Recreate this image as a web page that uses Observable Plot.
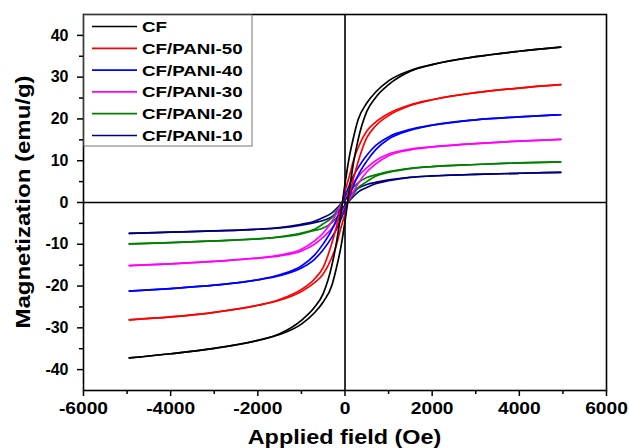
<!DOCTYPE html>
<html><head><meta charset="utf-8">
<script src="https://cdn.jsdelivr.net/npm/d3@7"></script>
<script src="https://cdn.jsdelivr.net/npm/@observablehq/plot@0.6"></script>
<style>
body{margin:0;background:#fff}
#chart{position:relative;width:629px;height:448px}
svg text{font-family:"Liberation Sans",Arial,sans-serif;font-weight:bold}
</style>
</head><body><div id="chart"></div>
<script>
// Applied field grid (Oe)
const fieldH = [-4950,-4000,-3000,-2000,-1500,-1000,-700,-500,-300,-200,-100,0,100,200,300,500,700,1000,1500,2000,3000,4000,4950];

// Magnetization (emu/g): upper branch (descending field) and lower branch (ascending field)
const cfUpper   = [-37.2,-36.2,-34.9,-33.0,-31.4,-28.2,-25.1,-21.8,-15.0,-9.8,-3.0,4.5,11.0,15.8,19.8,23.8,26.4,29.1,31.6,33.0,34.9,36.2,37.2];
const cfLower   = [-37.2,-36.2,-34.9,-33.0,-31.6,-29.1,-26.4,-23.8,-19.8,-15.8,-11.0,-4.5,3.0,9.8,15.0,21.8,25.1,28.2,31.4,33.0,34.9,36.2,37.2];
const p50Upper  = [-28.1,-27.4,-26.3,-24.6,-23.2,-20.8,-18.3,-15.5,-9.7,-6.0,-1.8,2.7,6.3,10.3,13.1,17.1,19.2,21.3,23.4,24.6,26.3,27.4,28.2];
const p50Lower  = [-28.1,-27.4,-26.3,-24.6,-23.4,-21.3,-19.2,-17.1,-13.1,-10.3,-6.3,-2.7,1.8,6.0,9.7,15.5,18.3,20.8,23.2,24.6,26.3,27.4,28.2];
const p40Upper  = [-21.2,-20.6,-19.8,-18.5,-17.3,-15.2,-12.6,-9.9,-6.5,-4.2,-1.5,1.5,4.2,6.5,8.3,11.3,13.6,15.7,17.5,18.5,19.8,20.5,21.0];
const p40Lower  = [-21.2,-20.6,-19.8,-18.5,-17.5,-15.7,-13.6,-11.3,-8.3,-6.5,-4.2,-1.5,1.5,4.2,6.5,9.9,12.6,15.2,17.3,18.5,19.8,20.5,21.0];
const p30Upper  = [-15.1,-14.7,-14.1,-13.3,-12.6,-11.2,-9.2,-7.3,-4.5,-2.7,-0.8,1.2,3.1,4.8,6.2,8.3,10.0,11.6,12.8,13.3,14.1,14.7,15.1];
const p30Lower  = [-15.1,-14.7,-14.1,-13.3,-12.8,-11.6,-10.0,-8.3,-6.2,-4.8,-3.1,-1.2,0.8,2.7,4.5,7.3,9.2,11.2,12.6,13.3,14.1,14.7,15.1];
const p20Upper  = [-9.9,-9.6,-9.2,-8.7,-8.2,-7.3,-6.4,-5.1,-3.6,-2.1,-0.6,1.0,2.4,3.7,4.7,6.0,6.6,7.4,8.2,8.6,9.1,9.5,9.7];
const p20Lower  = [-9.9,-9.6,-9.2,-8.7,-8.3,-7.5,-6.7,-6.1,-4.8,-3.7,-2.4,-1.0,0.6,2.1,3.5,5.0,6.3,7.2,8.1,8.6,9.1,9.5,9.7];
const p10Upper  = [-7.4,-7.1,-6.8,-6.4,-6.0,-5.2,-4.5,-3.6,-2.5,-1.5,-0.4,0.7,1.6,2.6,3.4,4.3,4.8,5.4,6.05,6.35,6.75,7.0,7.2];
const p10Lower  = [-7.4,-7.1,-6.8,-6.4,-6.1,-5.4,-4.8,-4.3,-3.4,-2.6,-1.6,-0.7,0.4,1.5,2.5,3.6,4.5,5.2,6.0,6.35,6.75,7.0,7.2];

const seriesNames  = ["CF","CF/PANI-50","CF/PANI-40","CF/PANI-30","CF/PANI-20","CF/PANI-10"];
const seriesColors = ["#000000","#ff0000","#0000ff","#ff00ff","#008000","#000080"];
const upperBranches = [cfUpper,p50Upper,p40Upper,p30Upper,p20Upper,p10Upper];
const lowerBranches = [cfLower,p50Lower,p40Lower,p30Lower,p20Lower,p10Lower];

const xTicks = [-6000,-4000,-2000,0,2000,4000,6000];
const xMinor = [-5000,-3000,-1000,1000,3000,5000];
const yTicks = [-40,-30,-20,-10,0,10,20,30,40];
const yMinor = [-35,-25,-15,-5,5,15,25,35];
const xLabel = "Applied field (Oe)";
const yLabel = "Magnetization (emu/g)";

const rows = [];
seriesNames.forEach((name, i) => {
  fieldH.forEach((h, j) => rows.push({H: h, M: upperBranches[i][j], key: name + "-up", name}));
  fieldH.forEach((h, j) => rows.push({H: h, M: lowerBranches[i][j], key: name + "-lo", name}));
});
const drawOrder = rows.slice().reverse();

const chart = Plot.plot({
  width: 629, height: 448,
  marginLeft: 83, marginRight: 23, marginTop: 14, marginBottom: 58,
  x: {domain: [-6000, 6000]},
  y: {domain: [-45, 45]},
  color: {domain: seriesNames, range: seriesColors},
  marks: [
    Plot.ruleX([0], {stroke: "#000", strokeWidth: 1.6}),
    Plot.ruleY([0], {stroke: "#000", strokeWidth: 1.6}),
    Plot.line(drawOrder, {x: "H", y: "M", z: "key", stroke: "name", strokeWidth: 1.7, curve: "monotone-x"}),
    Plot.frame({stroke: "#000", strokeWidth: 1.6}),
    Plot.axisX({ticks: xTicks, tickSize: 6, tickPadding: 6, strokeWidth: 1.5, tickFormat: d => String(d), fontSize: 16, fontWeight: "bold", label: null}),
    Plot.axisX({ticks: xMinor, tickSize: 4, strokeWidth: 1.5, text: null, label: null}),
    Plot.axisY({ticks: yTicks, tickSize: 6, tickPadding: 9, strokeWidth: 1.5, tickFormat: d => String(d), fontSize: 16, fontWeight: "bold", label: null}),
    Plot.axisY({ticks: yMinor, tickSize: 4, strokeWidth: 1.5, text: null, label: null})
  ]
});
document.getElementById("chart").append(chart);

const svg = d3.select(chart);
// widen glyphs horizontally around each text's own anchor point
svg.selectAll("g[aria-label='x-axis tick label'] text").each(function() {
  const t = this.getAttribute("transform") || "";
  const x = this.getAttribute("x");
  let extra = "";
  if (x !== null && !/em$/.test(x)) { extra = ` translate(${x},0)`; this.removeAttribute("x"); }
  this.setAttribute("transform", `${t}${extra} scale(1.2,1)`);
});

// axis titles, centred on the plotting frame
const xr = chart.scale("x").range, yr = chart.scale("y").range;
const cx = (xr[0] + xr[1]) / 2, cy = (yr[0] + yr[1]) / 2;
svg.append("text").attr("text-anchor", "middle").attr("dy", "0.36em")
  .attr("transform", `translate(${cx},437) scale(1.17,1)`)
  .attr("font-size", 20).attr("fill", "#000").text(xLabel);
svg.append("text").attr("text-anchor", "middle").attr("dy", "0.36em")
  .attr("transform", `translate(23,${cy}) rotate(-90) scale(1.2,1)`)
  .attr("font-size", 20).attr("fill", "#000").text(yLabel);

// legend
const lg = svg.append("g").attr("class", "legend");
lg.append("rect").attr("x", 84).attr("y", 15).attr("width", 168).attr("height", 131)
  .attr("fill", "#fff").attr("stroke", "#777").attr("stroke-width", 1);
seriesNames.forEach((name, i) => {
  const yy = 26.5 + i * 21.8;
  lg.append("line").attr("x1", 92).attr("x2", 137).attr("y1", yy).attr("y2", yy)
    .attr("stroke", seriesColors[i]).attr("stroke-width", 1.7);
  lg.append("text").attr("text-anchor", "start").attr("dy", "0.36em")
    .attr("transform", `translate(142,${yy}) scale(1.25,1)`)
    .attr("font-size", 15).attr("fill", "#000").text(name);
});
</script>
</body></html>
